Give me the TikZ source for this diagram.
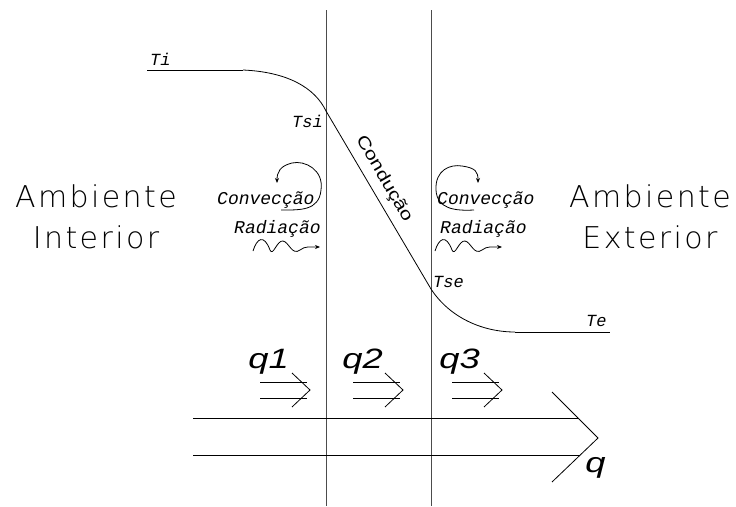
\documentclass[tikz,border=0pt]{standalone}
\usepackage{fontspec}
\usetikzlibrary{arrows.meta}
\newfontfamily\ambfont[LetterSpace=8]{DejaVu Sans ExtraLight}
\newfontfamily\tfont{Liberation Mono}
\newfontfamily\qfont{Liberation Sans}
\newfontfamily\condfont{Liberation Sans}
\tikzset{
  wall/.style={line width=1pt, black!70},
  prof/.style={line width=0.8pt},
  lbl/.style={inner sep=0pt, font=\tfont\itshape\fontsize{17}{17}\selectfont},
  mech/.style={inner sep=0pt, font=\tfont\itshape\fontsize{18}{18}\selectfont},
  amb/.style={inner sep=0pt, align=center, font=\ambfont\fontsize{30}{41}\selectfont},
  qlbl/.style={inner sep=0pt, xscale=1.3, font=\qfont\itshape\fontsize{28}{28}\selectfont},
  flux/.style={line width=0.8pt},
  tip/.style={-{Stealth[length=5pt,width=4pt]}},
}
\begin{document}
\begin{tikzpicture}[x=1pt,y=-1pt]
\useasboundingbox (0,0) rectangle (736,506);
\coordinate (w1t) at (326,10);
\coordinate (w1b) at (326,506);
\coordinate (w2t) at (431,10);
\coordinate (w2b) at (431,506);
\draw[wall](w1t) -- (w1b);
\draw[wall](w2t) -- (w2b);
\coordinate (ti0) at (147,70);
\coordinate (ti1) at (243,70);
\coordinate (tsi) at (326,111);
\coordinate (tse) at (431,289);
\coordinate (te0) at (515,332);
\coordinate (te1) at (610,332);
\draw[prof](ti0) -- (ti1);
\draw[prof](ti1) .. controls (288,72) and (315,88) .. (tsi);
\draw[prof](tsi) -- (tse);
\draw[prof](tse) .. controls (450,318) and (483,332) .. (te0);
\draw[prof](te0) -- (te1);
\node[lbl, anchor=base west] (ti) at (150,65) {Ti};
\node[lbl, anchor=base east] (tsil) at (323,127) {Tsi};
\node[lbl, anchor=base west] (tsel) at (433,287) {Tse};
\node[lbl, anchor=base west] (tel) at (586,326) {Te};
\node[inner sep=0pt, rotate=-59.7, xscale=1.25, font=\condfont\fontsize{17}{17}\selectfont] (cond) at (384,179) {Condução};
\node[amb, anchor=north] (intr) at (96,185) {Ambiente\\Interior};
\node[amb, anchor=north] (extr) at (650,185) {Ambiente\\Exterior};
\node[mech, anchor=base west] (conv1) at (217,204) {Convecção};
\node[mech, anchor=base west] (rad1) at (234,233) {Radiação};
\node[mech, anchor=base west] (conv2) at (437,204) {Convecção};
\node[mech, anchor=base west] (rad2) at (440,233) {Radiação};
\coordinate (cl0) at (281,210);
\coordinate (cl1) at (277,183);
\draw[flux, tip](cl0) .. controls (300,210) and (319,211) .. (321,190) .. controls (324,170) and (305,160) .. (292,163) .. controls (280,166) and (277,172) .. (cl1);
\coordinate (cr0) at (474,210);
\coordinate (cr1) at (478,183);
\draw[flux, tip](cr0) .. controls (455,211) and (437,209) .. (436,190) .. controls (435,170) and (450,164) .. (462,166) .. controls (476,168) and (478,172) .. (cr1);
\coordinate (rl0) at (253,251);
\coordinate (rl1) at (320,247);
\draw[flux, tip](rl0) .. controls (257,238) and (264,234) .. (270,250) .. controls (273,257) and (277,240) .. (283,241) .. controls (289,242) and (292,256) .. (300,250) .. controls (305,246) and (310,247) .. (rl1);
\coordinate (rr0) at (435,251);
\coordinate (rr1) at (502,247);
\draw[flux, tip](rr0) .. controls (439,238) and (446,234) .. (452,250) .. controls (455,257) and (459,240) .. (465,241) .. controls (471,242) and (474,256) .. (482,250) .. controls (487,246) and (492,247) .. (rr1);
\node[qlbl, anchor=base west] (q1) at (248,368) {q1};
\node[qlbl, anchor=base west] (q2) at (342,368) {q2};
\node[qlbl, anchor=base west] (q3) at (439,368) {q3};
\foreach \x in {260,353,452}{
  \draw[flux](\x,382) -- ++(47,0);
  \draw[flux](\x,398) -- ++(47,0);
  \draw[flux](\x+32,373) -- ++(18,17) -- ++(-18,17);
}
\draw[flux](193,418) -- (578,418);
\draw[flux](193,455) -- (580,455);
\draw[flux](552,392) -- (598,438) -- (552,482);
\node[qlbl, anchor=base west] (q) at (585,472) {q};
\end{tikzpicture}
\end{document}
